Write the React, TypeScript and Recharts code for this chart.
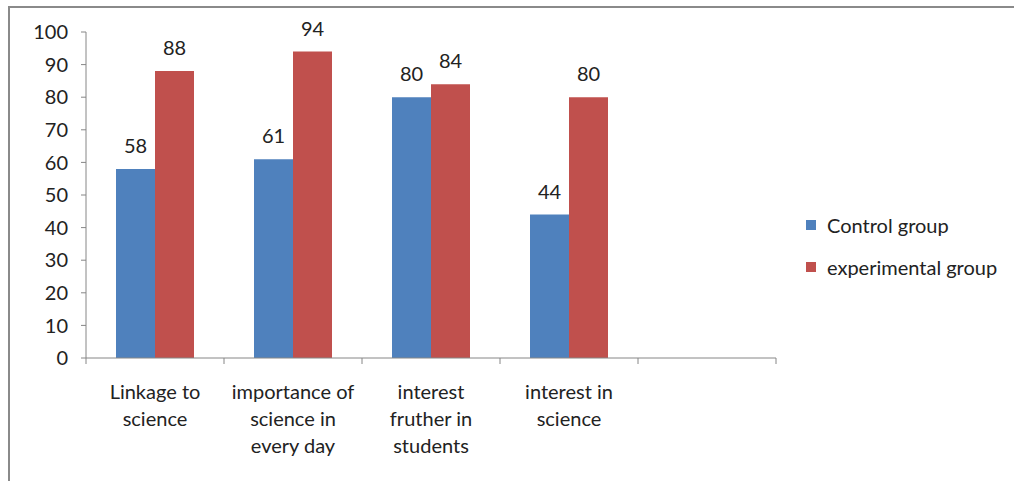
import { BarChart, Bar, XAxis, YAxis, Legend, LabelList } from 'recharts';

const categories = [
  'Linkage to\nscience',
  'importance of\nscience in\nevery day',
  'interest\nfruther in\nstudents',
  'interest in\nscience',
  '',
];
const controlGroup = [58, 61, 80, 44, null];
const experimentalGroup = [88, 94, 84, 80, null];
const yTicks = [0, 10, 20, 30, 40, 50, 60, 70, 80, 90, 100];

const data = categories.map((name, i) => ({
  name,
  control: controlGroup[i],
  experimental: experimentalGroup[i],
}));

const FONT = 'Lato, "Noto Sans", sans-serif';
const AXIS = '#868686';
const FS = 20;

function CategoryTick(props: any) {
  const { x, y, payload, index, visibleTicksCount } = props;
  const half = payload?.offset ?? 69;
  const lines = String(payload.value).split('\n');
  const last = index === (visibleTicksCount ?? 5) - 1;
  return (
    <g>
      <line x1={x - half} x2={x - half} y1={y - 6} y2={y} stroke={AXIS} />
      {last && <line x1={x + half} x2={x + half} y1={y - 6} y2={y} stroke={AXIS} />}
      <text x={x} y={y + 35} textAnchor="middle" fontSize={FS} fontFamily={FONT} fill="#222">
        {lines.map((l, i) => (
          <tspan key={i} x={x} dy={i === 0 ? 0 : 27}>
            {l}
          </tspan>
        ))}
      </text>
    </g>
  );
}

function SideLegend(props: any) {
  const { payload } = props;
  return (
    <div style={{ fontFamily: FONT, fontSize: FS, color: '#222' }}>
      {(payload || []).map((p: any, i: number) => (
        <div key={i} style={{ display: 'flex', alignItems: 'center', height: 42 }}>
          <span style={{ width: 10, height: 10, background: p.color, marginRight: 11, display: 'inline-block' }} />
          <span>{p.value}</span>
        </div>
      ))}
    </div>
  );
}

export default function App() {
  return (
    <div style={{ position: 'absolute', left: 0, top: 0, width: 1014, height: 481, background: '#fff' }}>
      <div
        style={{
          position: 'absolute',
          left: 8,
          top: 6,
          right: 0,
          bottom: 0,
          borderTop: '2px solid #8a8a8a',
          borderLeft: '2px solid #8a8a8a',
        }}
      />
      <BarChart
        width={1014}
        height={481}
        data={data}
        margin={{ top: 32, right: 28, bottom: 0, left: 0 }}
        barCategoryGap={30}
        barGap={0}
      >
        <XAxis
          dataKey="name"
          axisLine={{ stroke: AXIS }}
          tickLine={false}
          tickSize={6}
          tickMargin={0}
          interval={0}
          height={123}
          tick={<CategoryTick />}
        />
        <YAxis
          domain={[0, 100]}
          ticks={yTicks}
          interval={0}
          axisLine={{ stroke: AXIS }}
          tickLine={{ stroke: AXIS }}
          tickSize={5}
          tickMargin={13}
          width={86}
          tick={{ fontSize: FS, fontFamily: FONT, fill: '#222' }}
        />
        <Legend
          layout="vertical"
          align="right"
          verticalAlign="middle"
          content={<SideLegend />}
          wrapperStyle={{ left: 806, top: 204, width: 210 }}
        />
        <Bar dataKey="control" name="Control group" fill="#4F81BD" isAnimationActive={false}>
          <LabelList dataKey="control" position="top" offset={16} style={{ fontSize: FS, fontFamily: FONT, fill: '#222' }} />
        </Bar>
        <Bar dataKey="experimental" name="experimental group" fill="#C0504D" isAnimationActive={false}>
          <LabelList dataKey="experimental" position="top" offset={16} style={{ fontSize: FS, fontFamily: FONT, fill: '#222' }} />
        </Bar>
      </BarChart>
    </div>
  );
}
